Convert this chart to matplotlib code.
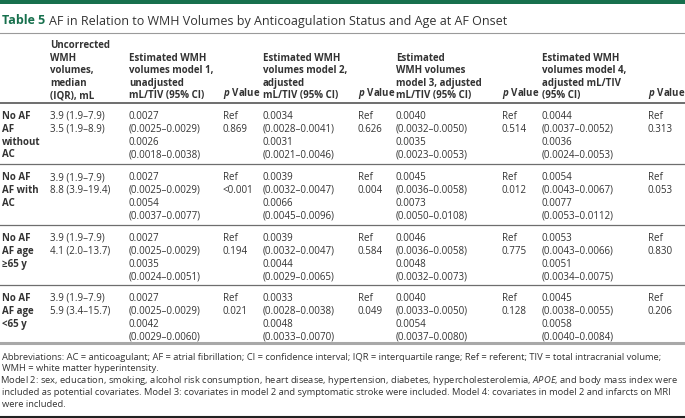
import matplotlib
matplotlib.use("Agg")
import matplotlib.pyplot as plt

plt.rcParams['font.family'] = ['Open Sans', 'DejaVu Sans']
plt.rcParams['mathtext.fontset'] = 'custom'
plt.rcParams['mathtext.it'] = 'Open Sans:italic'
plt.rcParams['mathtext.bf'] = 'Open Sans:bold'
plt.rcParams['mathtext.bfit'] = 'Open Sans:italic:bold'
plt.rcParams['mathtext.rm'] = 'Open Sans'

GREEN = '#17704d'
TEXT = '#333333'

# table content
title_num = "Table 5"
title_txt = "AF in Relation to WMH Volumes by Anticoagulation Status and Age at AF Onset"

headers = [
    "",
    "Uncorrected\nWMH\nvolumes,\nmedian\n(IQR), mL",
    "Estimated WMH\nvolumes model 1,\nunadjusted\nmL/TIV (95% CI)",
    r"$\mathbfit{p}$ Value",
    "Estimated WMH\nvolumes model 2,\nadjusted\nmL/TIV (95% CI)",
    r"$\mathbfit{p}$ Value",
    "Estimated\nWMH volumes\nmodel 3, adjusted\nmL/TIV (95% CI)",
    r"$\mathbfit{p}$ Value",
    "Estimated WMH\nvolumes model 4,\nadjusted mL/TIV\n(95% CI)",
    r"$\mathbfit{p}$ Value",
]

row_labels = ["No AF\nAF\nwithout\nAC", "No AF\nAF with\nAC",
              "No AF\nAF age\n≥65 y", "No AF\nAF age\n<65 y"]

uncorrected = [("3.9 (1.9–7.9)", "3.5 (1.9–8.9)"),
               ("3.9 (1.9–7.9)", "8.8 (3.9–19.4)"),
               ("3.9 (1.9–7.9)", "4.1 (2.0–13.7)"),
               ("3.9 (1.9–7.9)", "5.9 (3.4–15.7)")]

# (no AF estimate, no AF CI, AF estimate, AF CI, p value) per model
model1 = [("0.0027", "0.0025–0.0029", "0.0026", "0.0018–0.0038", "0.869"),
          ("0.0027", "0.0025–0.0029", "0.0054", "0.0037–0.0077", "<0.001"),
          ("0.0027", "0.0025–0.0029", "0.0035", "0.0024–0.0051", "0.194"),
          ("0.0027", "0.0025–0.0029", "0.0042", "0.0029–0.0060", "0.021")]
model2 = [("0.0034", "0.0028–0.0041", "0.0031", "0.0021–0.0046", "0.626"),
          ("0.0039", "0.0032–0.0047", "0.0066", "0.0045–0.0096", "0.004"),
          ("0.0039", "0.0032–0.0047", "0.0044", "0.0029–0.0065", "0.584"),
          ("0.0033", "0.0028–0.0038", "0.0048", "0.0033–0.0070", "0.049")]
model3 = [("0.0040", "0.0032–0.0050", "0.0035", "0.0023–0.0053", "0.514"),
          ("0.0045", "0.0036–0.0058", "0.0073", "0.0050–0.0108", "0.012"),
          ("0.0046", "0.0036–0.0058", "0.0048", "0.0032–0.0073", "0.775"),
          ("0.0040", "0.0033–0.0050", "0.0054", "0.0037–0.0080", "0.128")]
model4 = [("0.0044", "0.0037–0.0052", "0.0036", "0.0024–0.0053", "0.313"),
          ("0.0054", "0.0043–0.0067", "0.0077", "0.0053–0.0112", "0.053"),
          ("0.0053", "0.0043–0.0066", "0.0051", "0.0034–0.0075", "0.830"),
          ("0.0045", "0.0038–0.0055", "0.0058", "0.0040–0.0084", "0.206")]

footnote = [
    "Abbreviations: AC = anticoagulant; AF = atrial fibrillation; CI = confidence interval; IQR = interquartile range; Ref = referent; TIV = total intracranial volume;",
    "WMH = white matter hyperintensity.",
    "Model 2: sex, education, smoking, alcohol risk consumption, heart disease, hypertension, diabetes, hypercholesterolemia, $APOE$, and body mass index were",
    "included as potential covariates. Model 3: covariates in model 2 and symptomatic stroke were included. Model 4: covariates in model 2 and infarcts on MRI",
    "were included.",
]

# layout (pixel coordinates)
W, H = 685, 418
col_x = [2, 50, 129, 223, 263, 358, 396, 502, 542, 648]
row_tops = [103, 164, 225, 285]
table_bottom = 343
fs = 7.0

fig = plt.figure(figsize=(W / 100, H / 100), dpi=100)
ax = fig.add_axes([0, 0, 1, 1])
ax.set_xlim(0, W)
ax.set_ylim(H, 0)
ax.axis('off')

# top green bar and title
ax.axhspan(0, 4, color=GREEN, lw=0)
t = ax.text(2, 21, title_num, color=GREEN, fontsize=9.0, fontweight='bold', va='center')
fig.canvas.draw()
bb = t.get_window_extent().transformed(ax.transData.inverted())
ax.text(bb.x1 + 4, 21, title_txt, color=TEXT, fontsize=9.0, va='center')
ax.plot([0, W], [33, 33], color='#9a9a9a', lw=0.8)

# header
for x, h in zip(col_x, headers):
    ax.text(x, 101, h, fontsize=fs, fontweight='bold', color=TEXT, va='bottom',
            linespacing=1.18)
ax.plot([0, W], [103, 103], color='#555555', lw=1.2)

# body
for i, top in enumerate(row_tops):
    y = top + 8
    ax.text(col_x[0], y, row_labels[i], fontsize=fs, fontweight='bold', color=TEXT,
            va='top', linespacing=1.22)
    ax.text(col_x[1], y, "\n".join(uncorrected[i]), fontsize=fs, color=TEXT,
            va='top', linespacing=1.22)
    for k, model in enumerate([model1, model2, model3, model4]):
        e0, c0, e1, c1, p = model[i]
        xe = col_x[2 + 2 * k]
        xp = col_x[3 + 2 * k]
        ax.text(xe, y, f"{e0}\n({c0})\n{e1}\n({c1})", fontsize=fs, color=TEXT,
                va='top', linespacing=1.22)
        ax.text(xp, y, f"Ref\n{p}", fontsize=fs, color=TEXT, va='top', linespacing=1.22)
    if i > 0:
        ax.plot([0, W], [top, top], color='#6e6e6e', lw=0.9)
ax.plot([0, W], [table_bottom, table_bottom], color='#a8a8a8', lw=2.2)

# footnotes - shrink font until every line fits the width
renderer = fig.canvas.get_renderer()
foot_fs = 7.0
while foot_fs > 5:
    widest = 0
    for line in footnote:
        probe = ax.text(2, 357, line, fontsize=foot_fs)
        widest = max(widest, probe.get_window_extent(renderer).x1)
        probe.remove()
    if widest <= 683:
        break
    foot_fs -= 0.05
for j, line in enumerate(footnote):
    # mathtext lines come out nudged to the right a little
    x0 = 0.5 if '$' in line else 2
    ax.text(x0, 357 + j * 11.8, line, fontsize=foot_fs, color=TEXT, va='center')
ax.plot([0, W], [417, 417], color='#222222', lw=1.5)

fig.savefig("out.png", dpi=100)
